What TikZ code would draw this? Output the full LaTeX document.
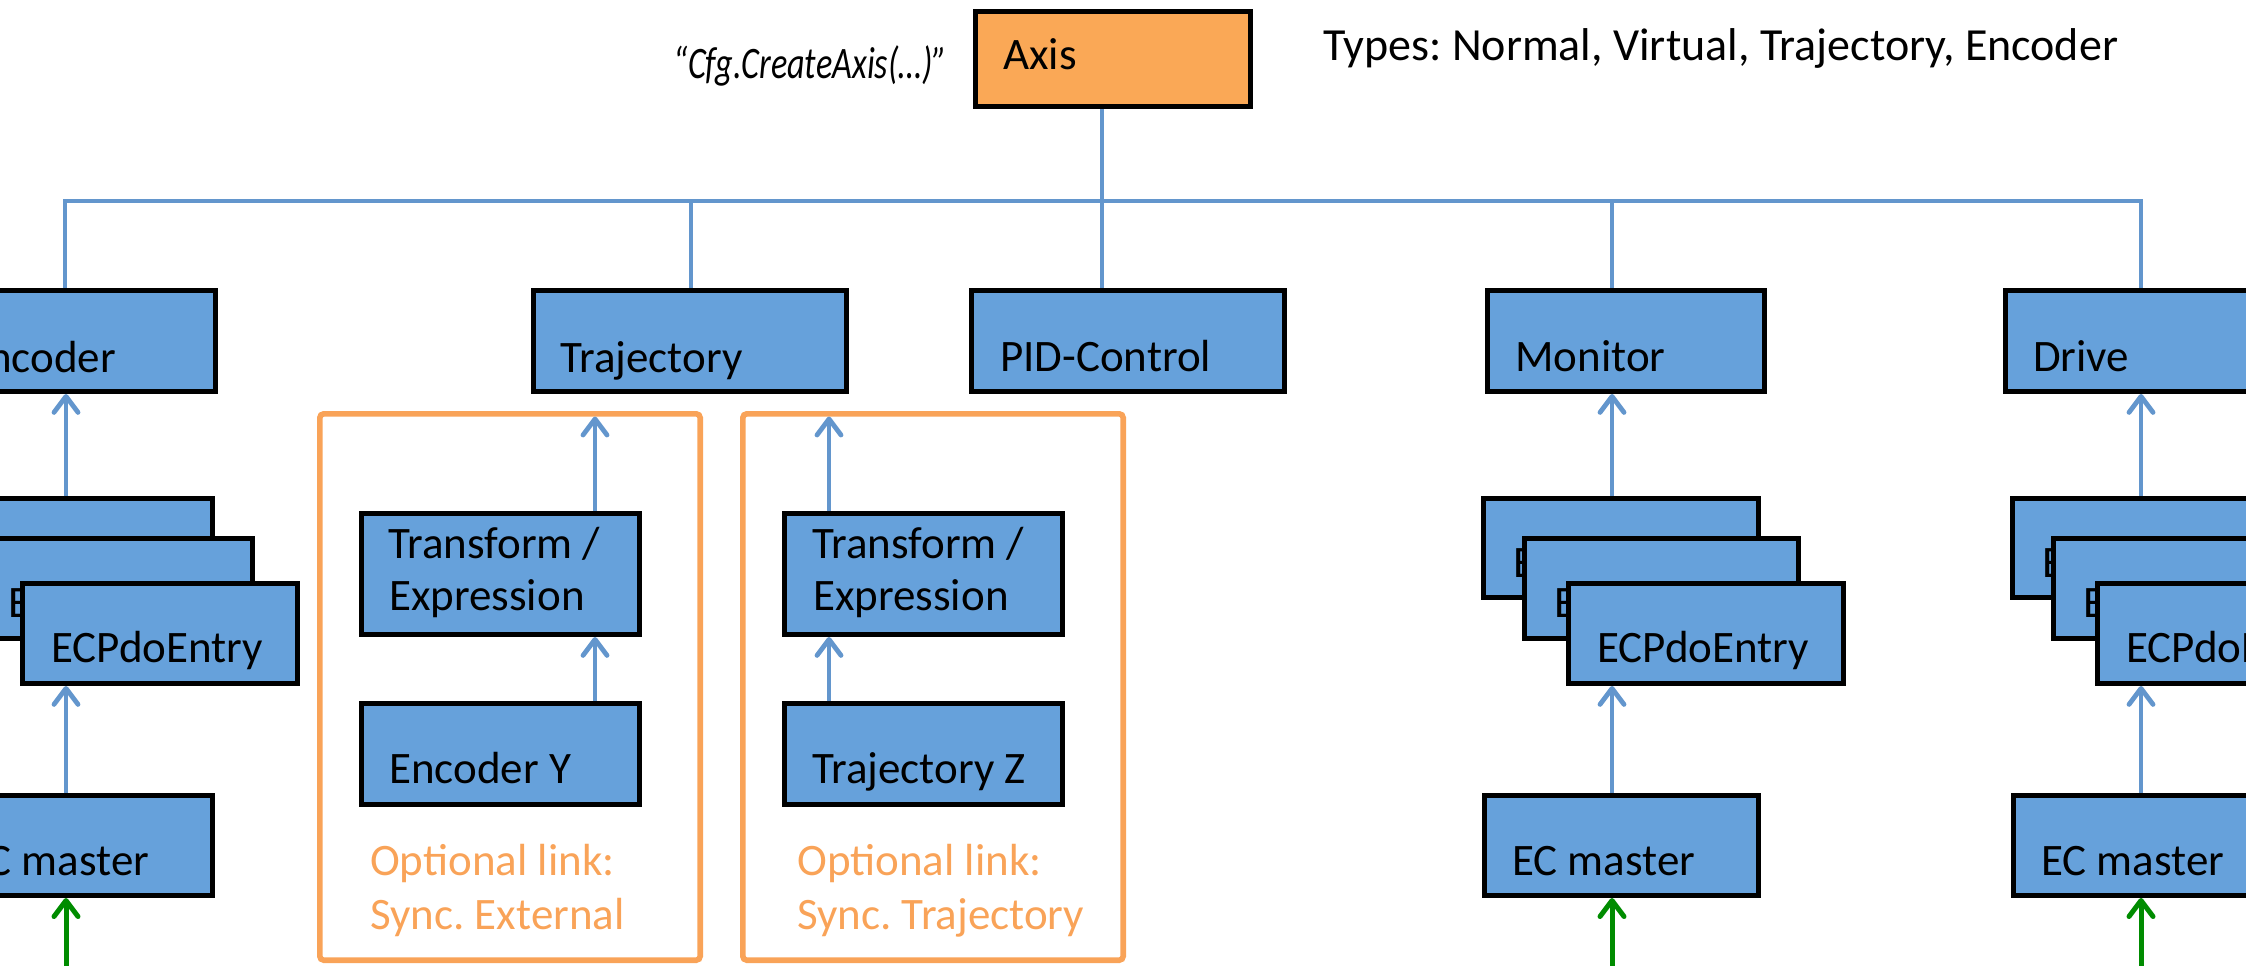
\documentclass[tikz,border=0pt]{standalone}
\usepackage{fontspec}
\setmainfont{Carlito}
\frenchspacing
\usetikzlibrary{arrows.meta}

\definecolor{boxblue}{RGB}{102,161,219}
\definecolor{linkblue}{RGB}{99,150,205}
\definecolor{axisorange}{RGB}{250,168,86}
\definecolor{optorange}{RGB}{249,163,88}
\definecolor{feedgreen}{RGB}{0,140,0}

% block given by its outer edges: name, left, top, right, bottom, fill
\newcommand\blk[6]{%
  \node[blk, fill=#6, anchor=north west,
        minimum width={(#4)-(#2)-5}, minimum height={(#5)-(#3)-5}] (#1) at (#2,#3) {};}

% stack of three PDO entries over an EtherCAT master; #1 prefix, #2 x of the arrows, #3 block fed
\newcommand\pdostack[3]{%
  \coordinate (#1x) at (#2,0);
  \blk{#1s1}{#2-131}{496}{#2+149}{600}{boxblue}
  \node[lbl] (#1s1-t) at (#2-99,577) {ECPdoEntry};
  \blk{#1s2}{#2-90}{536}{#2+189}{641}{boxblue}
  \node[lbl] (#1s2-t) at (#2-58,617) {ECPdoEntry};
  \blk{#1s3}{#2-46}{581}{#2+234}{686}{boxblue}
  \node[lbl] (#1s3-t) at (#2-15,662) {ECPdoEntry};
  \blk{#1m}{#2-130}{793}{#2+149}{898}{boxblue}
  \node[lbl] (#1m-t) at (#2-100,875) {EC master};
  \coordinate (#1in) at (#2,972);
  \draw[arr] (#1x |- #1s1.north) -- (#1x |- #3.south);
  \draw[arr] (#1x |- #1m.north) -- (#1x |- #1s3.south);
  \draw[garr] (#1in) -- (#1x |- #1m.south);
}

\begin{document}
\begin{tikzpicture}[x=1pt, y=-1pt,
  blk/.style={draw=black, line width=5pt, inner sep=0pt, outer sep=2.5pt},
  lbl/.style={font=\fontsize{45}{53}\selectfont, inner sep=0pt, anchor=base west},
  olbl/.style={lbl, text=optorange},
  frame/.style={draw=optorange, line width=5.6pt, rounded corners=4pt, inner sep=0pt, outer sep=2.8pt},
  conn/.style={draw=linkblue, line width=4.8pt},
  arr/.style={conn, -{Straight Barb[length=16pt,width=24pt,round]}},
  garr/.style={draw=feedgreen, line width=5pt, -{Straight Barb[length=16pt,width=24pt,round]}}
]
\useasboundingbox (0,0) rectangle (2246,966);
\clip (0,0) rectangle (2246,966);

% root object and its notes
\blk{axis}{973}{9}{1253}{109}{axisorange}
\node[lbl] (axis-t) at (1003,70) {Axis};
\node[lbl, anchor=base east, font=\fontsize{45}{53}\selectfont\itshape] (cfg) at (947,78)
  {\scalebox{0.76}[1]{“Cfg.CreateAxis(…)”}};
\node[lbl, font=\fontsize{46}{54}\selectfont] (types) at (1323,60) {Types: Normal, Virtual, Trajectory, Encoder};

% first level objects
\blk{enc}{-64}{288}{218}{394}{boxblue}
\node[lbl] (enc-t) at (-34,372) {Encoder};
\blk{traj}{531}{288}{849}{394}{boxblue}
\node[lbl] (traj-t) at (560,372) {Trajectory};
\blk{pid}{969}{288}{1287}{394}{boxblue}
\node[lbl] (pid-t) at (1000,371) {PID-Control};
\blk{mon}{1485}{288}{1767}{394}{boxblue}
\node[lbl] (mon-t) at (1515,371) {Monitor};
\blk{drv}{2003}{288}{2285}{394}{boxblue}
\node[lbl] (drv-t) at (2033,371) {Drive};

% bus from the axis to its objects
\coordinate (bEnc) at (65,201);
\coordinate (bTraj) at (691,201);
\coordinate (bAxis) at (1102,201);
\coordinate (bMon) at (1612,201);
\coordinate (bDrv) at (2141,201);
\draw[conn] (bAxis |- axis.south) -- (bAxis |- pid.north);
\draw[conn] (bEnc |- enc.north) -- (bEnc) -- (bDrv) -- (bDrv |- drv.north);
\draw[conn] (bTraj) -- (bTraj |- traj.north);
\draw[conn] (bMon) -- (bMon |- mon.north);

% hardware chains
\pdostack{l}{66}{enc}
\pdostack{m}{1612}{mon}
\pdostack{d}{2141}{drv}

% optional external synchronisation
\node[frame, anchor=north west, minimum width=380.4, minimum height=546.4] (fr1) at (317,411) {};
\blk{tr1}{359}{511}{642}{637}{boxblue}
\node[lbl] (tr1-a) at (388,558) {Transform /};
\node[lbl] (tr1-b) at (389,610) {Expression};
\blk{ency}{359}{701}{642}{807}{boxblue}
\node[lbl] (ency-t) at (389,783) {Encoder Y};
\node[olbl] (opt1-a) at (370,875) {Optional link:};
\node[olbl] (opt1-b) at (370,929) {Sync. External};
\coordinate (x1) at (595,0);
\draw[arr] (x1 |- ency.north) -- (x1 |- tr1.south);
\draw[arr] (x1 |- tr1.north) -- ([yshift=-5.6pt]x1 |- fr1.north);

% optional trajectory synchronisation
\node[frame, anchor=north west, minimum width=380.4, minimum height=546.4] (fr2) at (740,411) {};
\blk{tr2}{782}{511}{1065}{637}{boxblue}
\node[lbl] (tr2-a) at (812,558) {Transform /};
\node[lbl] (tr2-b) at (813,610) {Expression};
\blk{trz}{782}{701}{1065}{807}{boxblue}
\node[lbl] (trz-t) at (812,783) {Trajectory Z};
\node[olbl] (opt2-a) at (797,875) {Optional link:};
\node[olbl] (opt2-b) at (797,929) {Sync. Trajectory};
\coordinate (x2) at (829,0);
\draw[arr] (x2 |- trz.north) -- (x2 |- tr2.south);
\draw[arr] (x2 |- tr2.north) -- ([yshift=-5.6pt]x2 |- fr2.north);
\end{tikzpicture}
\end{document}
